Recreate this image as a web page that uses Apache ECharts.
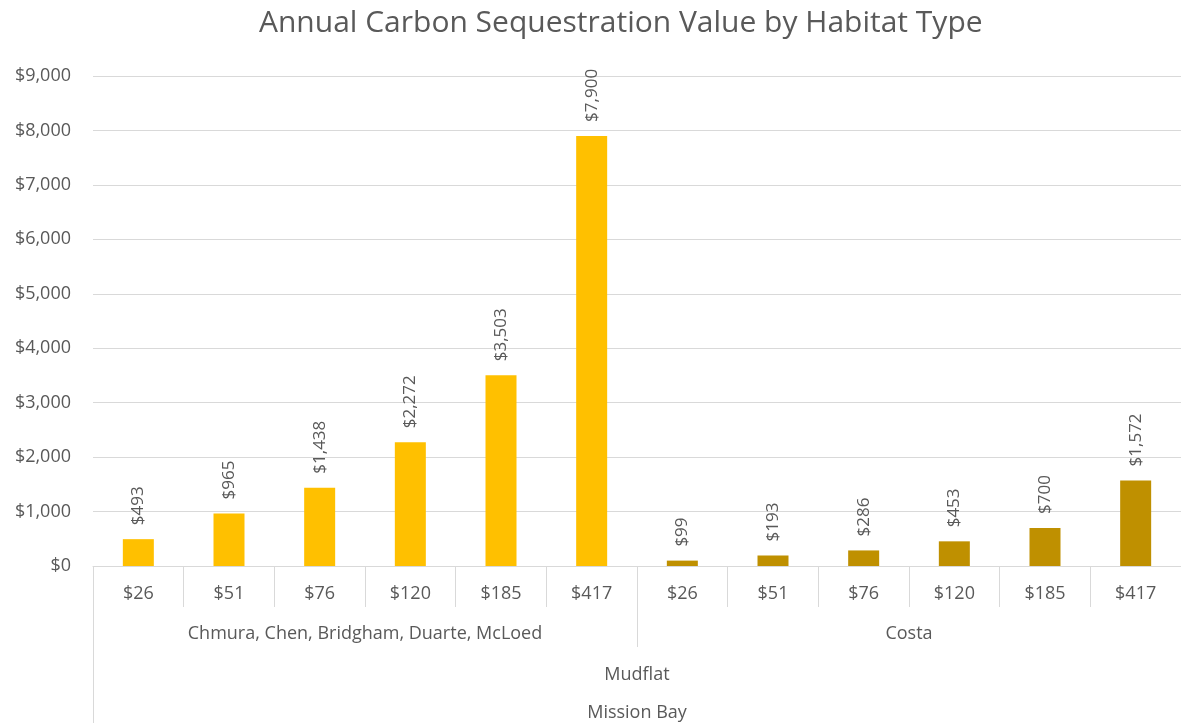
<!DOCTYPE html>
<html>
<head>
<meta charset="utf-8">
<script src="https://cdn.jsdelivr.net/npm/echarts@6/dist/echarts.min.js"></script>
<style>
  html, body { margin: 0; padding: 0; background: #fff; }
  #chart { width: 1181px; height: 723px; }
</style>
</head>
<body>
<div id="chart"></div>
<script>
// carbon prices ($/ton) for each study group
const priceLabels = ['$26', '$51', '$76', '$120', '$185', '$417', '$26', '$51', '$76', '$120', '$185', '$417'];
const groupNames = ['Chmura, Chen, Bridgham, Duarte, McLoed', 'Costa'];
const habitatNames = ['Mudflat'];
const siteNames = ['Mission Bay'];
// annual value, first 6 = Chmura et al., last 6 = Costa
const chmuraValues = [493, 965, 1438, 2272, 3503, 7900, '-', '-', '-', '-', '-', '-'];
const costaValues = ['-', '-', '-', '-', '-', '-', 99, 193, 286, 453, 700, 1572];

const textColor = '#595959';
const lineColor = '#d9d9d9';
const font = 'Open Sans';

function money(v) {
  return '$' + Number(v).toLocaleString('en-US');
}

const barLabel = {
  show: true,
  position: 'top',
  rotate: 90,
  align: 'left',
  verticalAlign: 'middle',
  distance: 14,
  color: textColor,
  fontFamily: font,
  fontSize: 17,
  formatter: (p) => money(p.value)
};

const axisText = { color: textColor, fontFamily: font, fontSize: 18 };

const chart = echarts.init(document.getElementById('chart'));
chart.setOption({
  title: {
    text: 'Annual Carbon Sequestration Value by Habitat Type',
    left: 254,
    top: 3,
    textStyle: { color: textColor, fontFamily: font, fontSize: 30, fontWeight: 'normal' }
  },
  grid: { left: 93, right: -4, top: 76, bottom: 157, containLabel: false },
  xAxis: [
    {
      type: 'category',
      data: priceLabels,
      axisLine: { show: true, lineStyle: { color: lineColor } },
      axisTick: { show: true, interval: 0, length: 41, lineStyle: { color: lineColor } },
      axisLabel: Object.assign({ margin: 19, interval: 0 }, axisText)
    },
    {
      type: 'category',
      data: groupNames,
      position: 'bottom',
      axisLine: { show: false },
      axisTick: { show: true, interval: 0, length: 81, lineStyle: { color: lineColor } },
      axisLabel: Object.assign({ margin: 59, interval: 0 }, axisText)
    },
    {
      type: 'category',
      data: habitatNames,
      position: 'bottom',
      axisLine: { show: false },
      axisTick: { show: true, interval: 0, length: 160, lineStyle: { color: lineColor } },
      axisLabel: Object.assign({ margin: 100, interval: 0 }, axisText)
    },
    {
      type: 'category',
      data: siteNames,
      position: 'bottom',
      axisLine: { show: false },
      axisTick: { show: false },
      axisLabel: Object.assign({ margin: 138, interval: 0 }, axisText)
    }
  ],
  yAxis: {
    type: 'value',
    min: 0,
    max: 9000,
    interval: 1000,
    axisLine: { show: false },
    axisTick: { show: false },
    splitLine: { lineStyle: { color: lineColor, width: 1 } },
    axisLabel: Object.assign({ margin: 22, formatter: (v) => money(v) }, axisText)
  },
  series: [
    {
      name: groupNames[0],
      type: 'bar',
      xAxisIndex: 0,
      data: chmuraValues,
      barWidth: 31,
      barGap: '-100%',
      itemStyle: { color: '#FFC000' },
      label: barLabel
    },
    {
      name: groupNames[1],
      type: 'bar',
      xAxisIndex: 0,
      data: costaValues,
      barWidth: 31,
      barGap: '-100%',
      itemStyle: { color: '#BF9000' },
      label: barLabel
    }
  ]
});
</script>
</body>
</html>
